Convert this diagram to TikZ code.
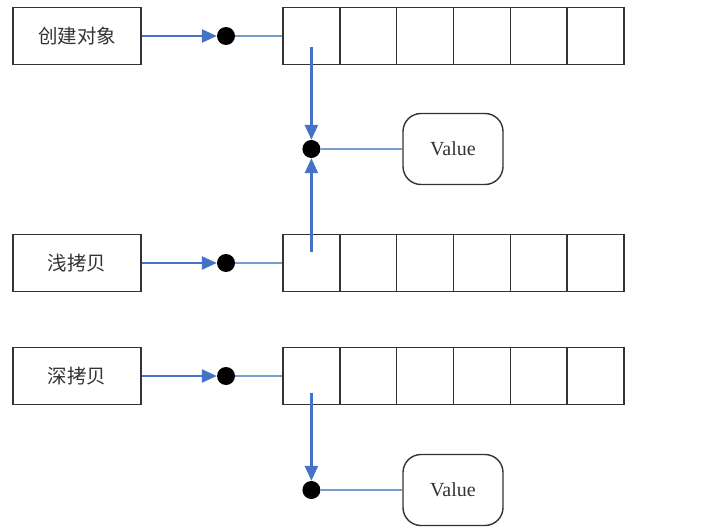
\documentclass[tikz,border=0pt]{standalone}
\usepackage{fontspec}
\setmainfont{Liberation Serif}
\newfontfamily\cjk{Noto Sans CJK SC}
\usepackage{tikz}
\usetikzlibrary{arrows.meta,positioning,shapes}
\definecolor{arrowblue}{RGB}{68,114,196}
\definecolor{linkblue}{RGB}{120,155,210}
\tikzset{%
	objbox/.style = {draw=black!80, line width=1.4pt, rectangle, minimum width=128pt, minimum height=57pt, text centered, text=black!80, font=\cjk\fontsize{19.5}{22}\selectfont},
	cell/.style   = {draw=black!80, line width=1.4pt, rectangle, minimum width=56.8pt, minimum height=57pt, inner sep=0pt},
	valbox/.style = {draw=black!80, line width=1.4pt, rectangle, rounded corners=18pt, minimum width=100pt, minimum height=71pt, text centered, text=black!80, font=\fontsize{20}{22}\selectfont},
	dot/.style    = {circle, fill=black, inner sep=0pt, minimum size=18pt},
	arrow/.style  = {arrowblue, line width=2.6pt, -{Triangle[length=15pt,width=13pt]}},
	link/.style   = {linkblue, line width=1.6pt},
}
\begin{document}
\begin{tikzpicture}[x=1pt,y=-1pt]
		\useasboundingbox (0,0) rectangle (712,532);
		
		\node[objbox] (create) at (77,36) {创建对象};
		\node[objbox] (shallow) at (77,263) {浅拷贝};
		\node[objbox] (deep) at (77,376) {深拷贝};
		
		\foreach \r/\y in {a/36,b/263,c/376} \foreach \i in {1,...,6} \node[cell] (\r\i) at ({283+56.8*(\i-0.5)},\y) {};
		
		\foreach \r/\y in {a/36,b/263,c/376} \node[dot] (p\r) at (226,\y) {};
		
		\node[dot] (qa) at (311.4,149) {};
		\node[dot] (qc) at (311.4,490) {};
		\node[valbox] (va) at (453,149) {Value};
		\node[valbox] (vc) at (453,490) {Value};
		
		\draw[arrow] (create) -- (pa);
		\draw[arrow] (shallow) -- (pb);
		\draw[arrow] (deep) -- (pc);
		\foreach \r in {a,b,c} \draw[link] (p\r) -- (\r1.west);
		
		\coordinate (sa) at ([yshift=-11pt]a1.center);
		\coordinate (sb) at ([yshift=11pt]b1.center);
		\coordinate (sc) at ([yshift=-17pt]c1.center);
		\draw[arrow] (sa) -- (qa);
		\draw[arrow] (sb) -- (qa);
		\draw[arrow] (sc) -- (qc);
		
		\draw[link] (qa) -- (va);
		\draw[link] (qc) -- (vc);
	\end{tikzpicture}
\end{document}
